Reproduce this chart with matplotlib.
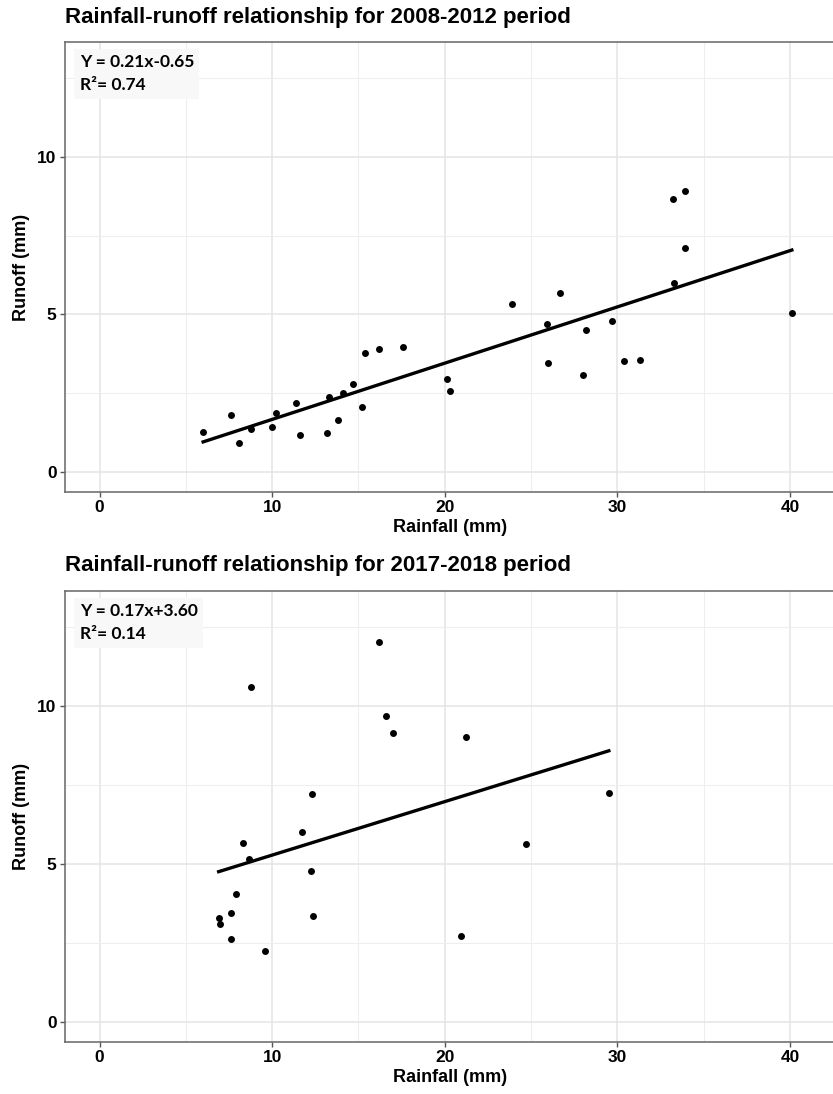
import matplotlib.pyplot as plt
import numpy as np
from matplotlib.ticker import MultipleLocator

# 2008-2012 period
rain_0812 = [6.0, 7.6, 8.1, 8.8, 10.0, 10.2, 11.4, 11.6, 13.2, 13.3, 13.8, 14.1, 14.7,
             15.2, 15.4, 16.2, 17.6, 20.1, 20.3, 23.9, 25.9, 26.0, 26.7, 28.0, 28.2,
             29.7, 30.4, 31.3, 33.2, 33.3, 33.9, 33.9, 40.1]
runoff_0812 = [1.26, 1.80, 0.90, 1.34, 1.40, 1.87, 2.19, 1.16, 1.23, 2.36, 1.63, 2.51, 2.78,
               2.04, 3.77, 3.89, 3.96, 2.95, 2.56, 5.34, 4.69, 3.44, 5.66, 3.08, 4.49,
               4.78, 3.50, 3.55, 8.67, 5.98, 8.92, 7.11, 5.04]

# 2017-2018 period
rain_1718 = [16.2, 8.75, 16.6, 17.0, 21.2, 12.3, 29.5, 11.7, 8.3, 24.7, 8.65, 12.25,
             7.9, 7.6, 6.9, 6.95, 12.35, 7.6, 9.6, 20.95]
runoff_1718 = [12.02, 10.60, 9.68, 9.14, 9.01, 7.21, 7.23, 6.0, 5.66, 5.63, 5.15, 4.76,
               4.05, 3.45, 3.28, 3.10, 3.34, 2.63, 2.24, 2.71]

titles = ['Rainfall-runoff relationship for 2008-2012 period',
          'Rainfall-runoff relationship for 2017-2018 period']
equations = ['Y = 0.21x-0.65', 'Y = 0.17x+3.60']
r2_labels = ['R\u00b2= 0.74', 'R\u00b2= 0.14']

plt.rcParams['font.family'] = ['Liberation Sans', 'DejaVu Sans']

W, H = 833, 1094
fig = plt.figure(figsize=(W / 100, H / 100), dpi=100)

def add_panel(top, bottom, x, y, title, eq, r2):
    left, right = 65, 835
    ax = fig.add_axes([left / W, 1 - bottom / H, (right - left) / W, (bottom - top) / H])
    ax.set_xlim(-2, 42.6)
    ax.set_ylim(-0.65, 13.65)
    ax.xaxis.set_major_locator(MultipleLocator(10))
    ax.xaxis.set_minor_locator(MultipleLocator(5))
    ax.yaxis.set_major_locator(MultipleLocator(5))
    ax.yaxis.set_minor_locator(MultipleLocator(2.5))
    ax.grid(which='major', color='#e4e4e4', lw=1.1, zorder=0)
    ax.grid(which='minor', color='#eeeeee', lw=0.8, zorder=0)
    ax.set_axisbelow(True)
    ax.tick_params(which='major', length=3.5, width=1, color='#555555', pad=2.5,
                   labelsize=12.5, labelcolor='black')
    ax.tick_params(which='minor', length=0)
    for lab in ax.get_xticklabels() + ax.get_yticklabels():
        lab.set_fontweight('bold')
    for sp in ax.spines.values():
        sp.set_color('#666666')
        sp.set_linewidth(1.1)

    ax.scatter(x, y, s=25, color='black', zorder=3, linewidths=0)
    k, b = np.polyfit(x, y, 1)
    xs = np.array([min(x), max(x)])
    ax.plot(xs, k * xs + b, color='black', lw=2.4, zorder=3)

    ax.set_xlabel('Rainfall (mm)', fontsize=13, fontweight='bold', labelpad=3)
    fig.text(22 / W, 1 - (top + bottom) / 2 / H, 'Runoff (mm)', rotation=90,
             ha='center', va='center', fontsize=13, fontweight='bold')
    fig.text(65 / W, 1 - (top - 25) / H, title, ha='left', va='center',
             fontsize=16, fontweight='bold')
    ax.text(0.019, 0.973, eq + '\n' + r2, transform=ax.transAxes, ha='left', va='top',
            fontsize=12.5, fontweight='bold', family=['Lato', 'DejaVu Sans'],
            linespacing=1.55,
            bbox=dict(boxstyle='square,pad=0.3', facecolor='#f8f8f8', edgecolor='none'))
    return ax

add_panel(42, 492, rain_0812, runoff_0812, titles[0], equations[0], r2_labels[0])
add_panel(591, 1042, rain_1718, runoff_1718, titles[1], equations[1], r2_labels[1])

fig.savefig('out.png', dpi=100)
